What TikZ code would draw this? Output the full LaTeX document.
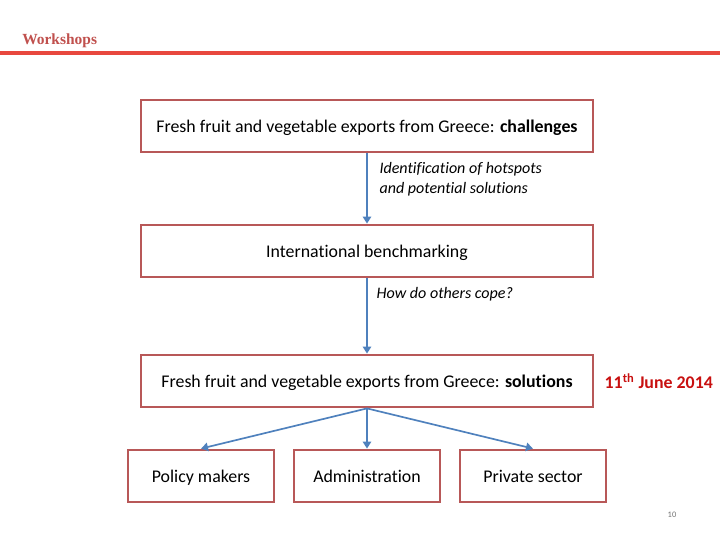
\documentclass[tikz,border=0pt]{standalone}
\usepackage{fontspec}
\setmainfont{Carlito}[Ligatures=NoCommon]
\newfontfamily\headfont{Liberation Serif}
\usepackage{tikz}
\usetikzlibrary{arrows.meta, positioning}
\usepackage{xcolor}
\definecolor{boxred}{RGB}{184,88,88}
\definecolor{flowblue}{RGB}{79,129,189}
\definecolor{barred}{RGB}{232,72,62}
\definecolor{titlered}{RGB}{192,80,77}
\definecolor{datered}{RGB}{200,16,16}

\begin{document}
\begin{tikzpicture}[
        stage/.style={rectangle, draw=boxred, fill=white, line width=2pt, minimum width=11.3cm, minimum height=1.3cm, text height=2.3ex, text depth=0.45ex, font=\fontsize{12.7}{15}\selectfont},
        actor/.style={stage, minimum width=3.65cm},
        flow/.style={-{Triangle[length=5pt, width=6pt]}, line width=1.2pt, draw=flowblue},
        note/.style={font=\fontsize{11.4}{14.2}\selectfont\itshape, align=left}
    ]
        \useasboundingbox (0,0) rectangle (18,-13.5);

        % Cabecera
        \node [anchor=west, inner sep=0pt, text=titlered, font=\headfont\bfseries\fontsize{11}{13}\selectfont] (head) at (0.55,-1.025) {Workshops};
        \draw [barred, line width=2.2pt] (0,-1.325) -- (18,-1.325);

        % Etapas centrales
        \node [stage] (s1) at (9.175, -3.15) {Fresh fruit and vegetable exports from Greece: \textbf{challenges}};
        \node [stage] (s2) at (9.175, -6.275) {International benchmarking};
        \node [stage] (s3) at (9.175, -9.525) {Fresh fruit and vegetable exports from Greece: \textbf{solutions}};
        \node [right=0.25cm of s3, inner sep=0pt, text=datered, font=\bfseries\fontsize{12.7}{15}\selectfont] (date) {11\textsuperscript{th} June 2014};

        % Destinatarios
        \node [actor] (pm) at (5.025, -11.9) {Policy makers};
        \node [actor] (adm) at (9.175, -11.9) {Administration};
        \node [actor] (priv) at (13.325, -11.9) {Private sector};

        % Flechas
        \draw [flow] (s1) -- node[pos=0.37, right=5pt, note] {Identification of hotspots\\and potential solutions} (s2);
        \draw [flow] (s2) -- node[pos=0.21, right=3pt, note] {How do others cope?} (s3);
        \draw [flow] (s3.south) -- (pm.north);
        \draw [flow] (s3.south) -- (adm.north);
        \draw [flow] (s3.south) -- (priv.north);

        \node [text=black!55, font=\fontsize{6}{7}\selectfont] (page) at (16.8,-12.875) {10};
    \end{tikzpicture}
\end{document}
